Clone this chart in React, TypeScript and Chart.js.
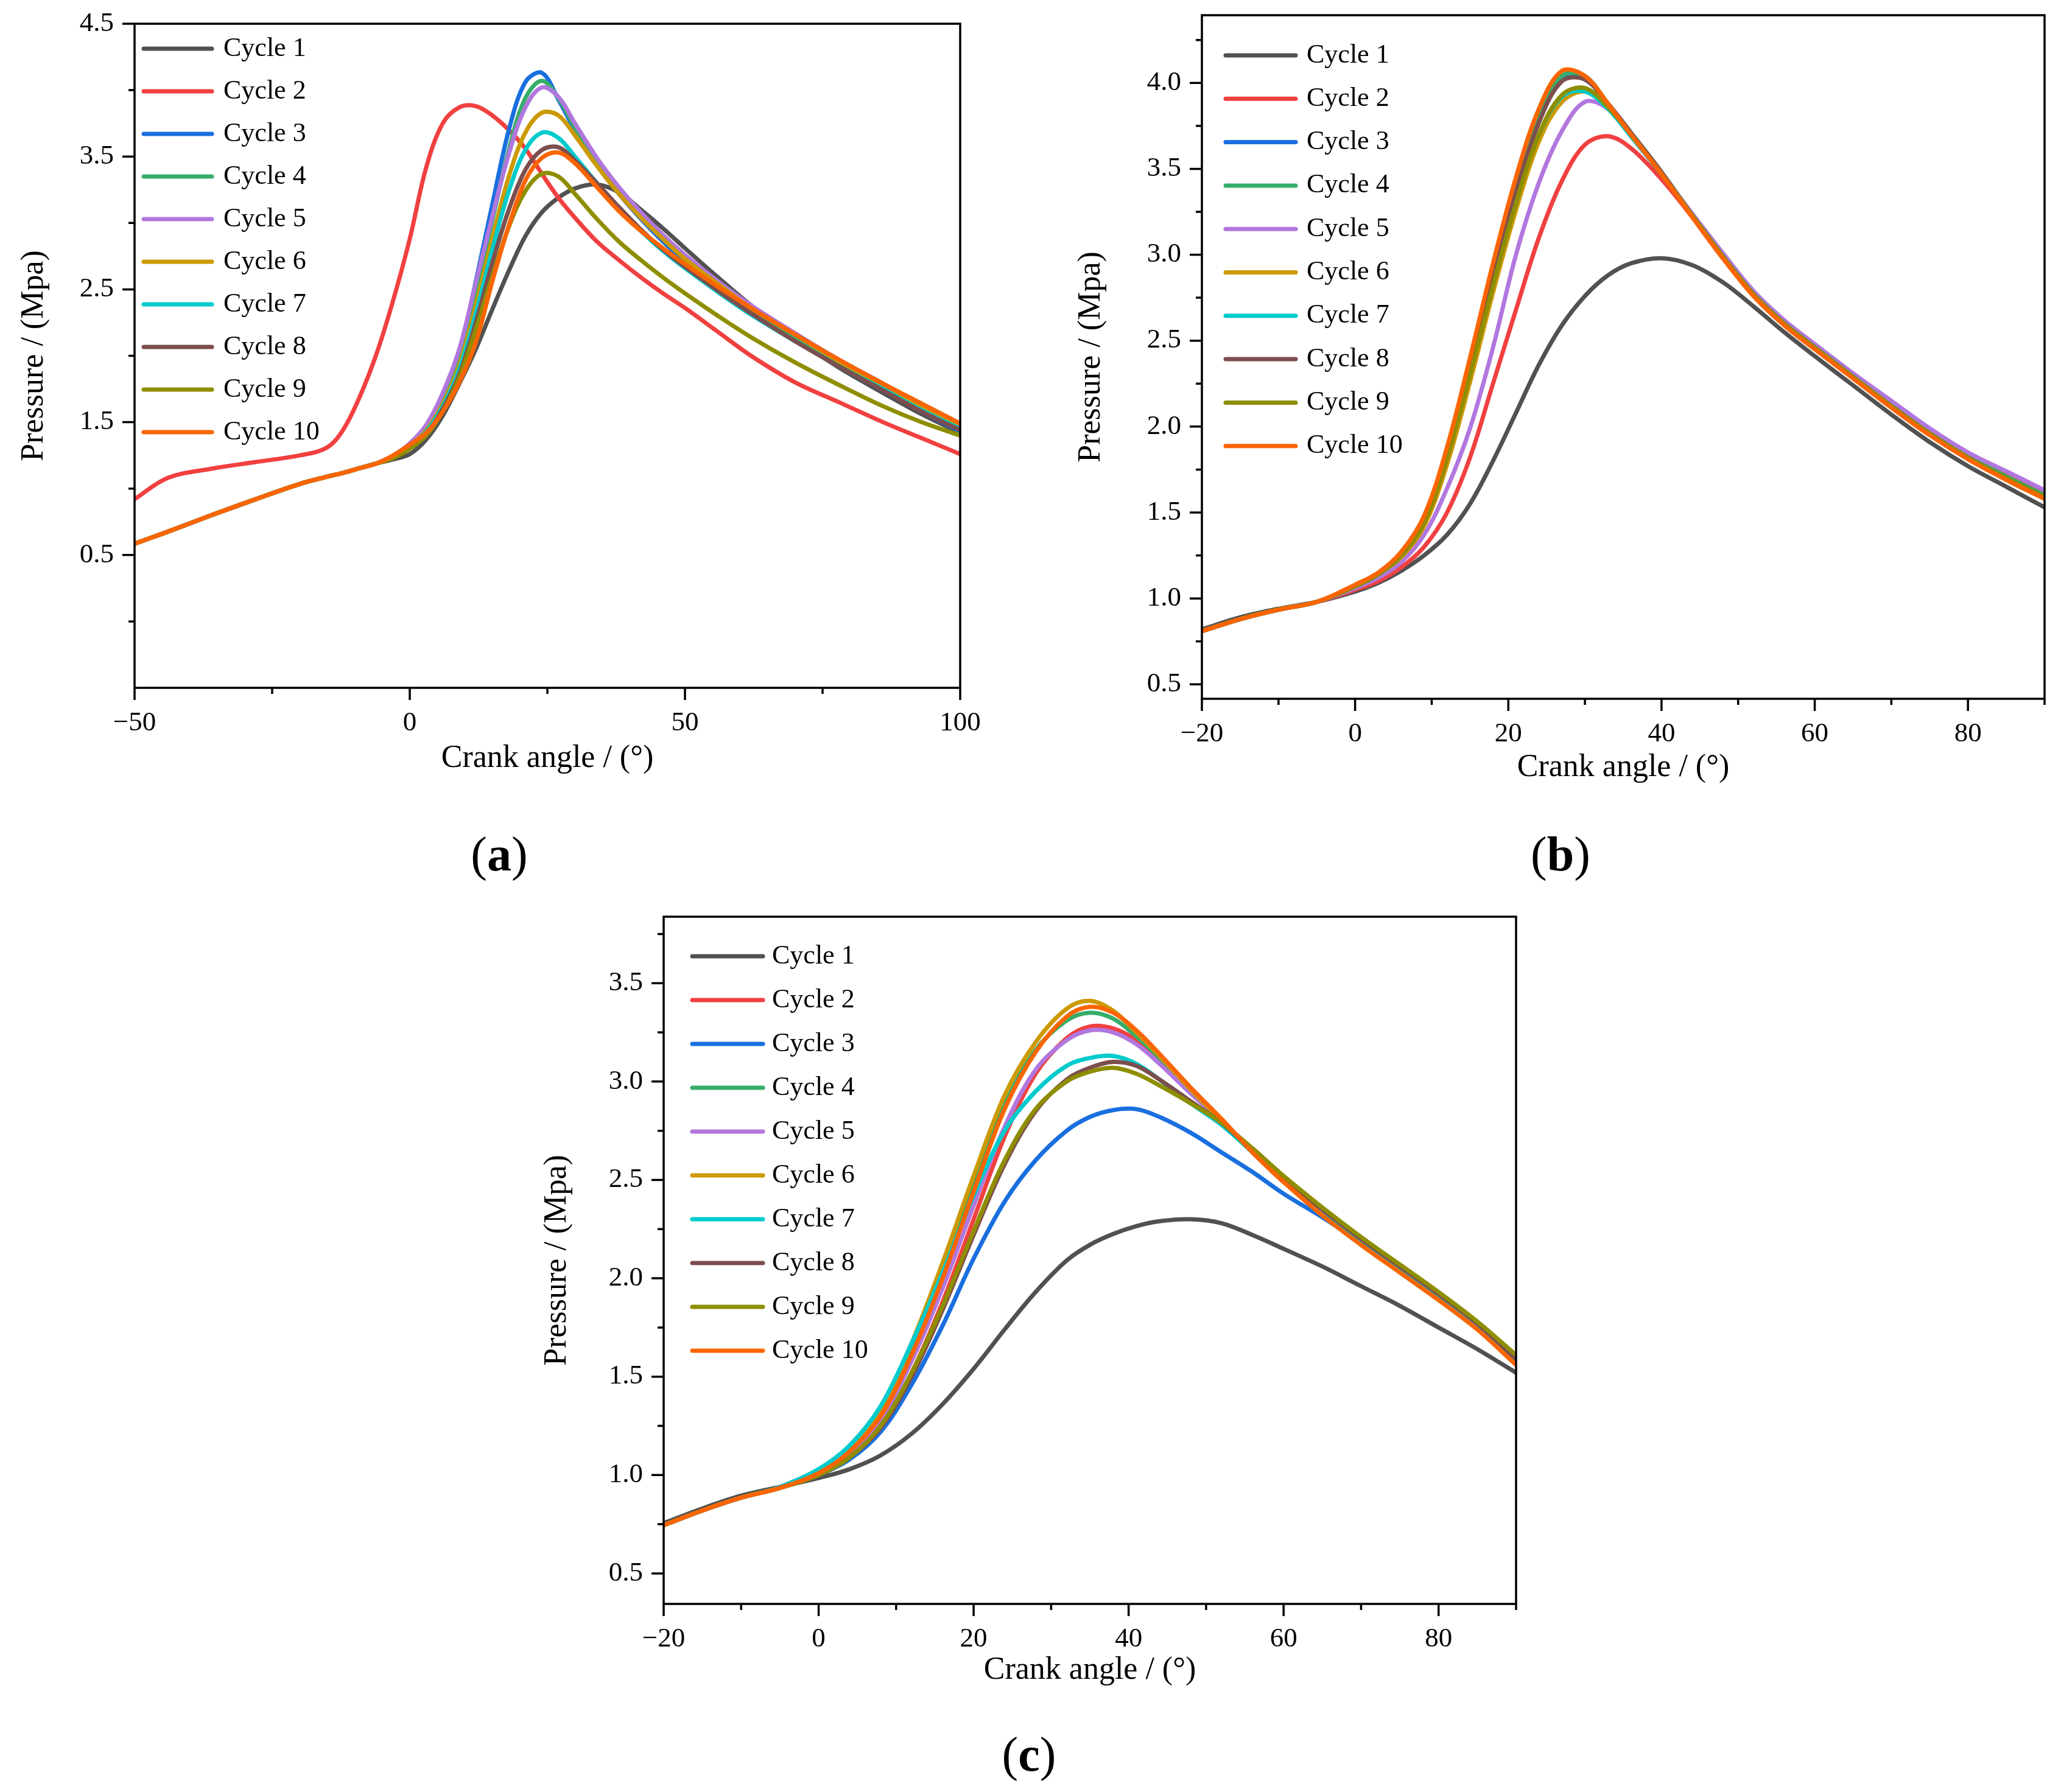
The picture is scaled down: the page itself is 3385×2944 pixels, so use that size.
import React, { useEffect, useRef } from 'react';
import { Chart, registerables } from 'chart.js';

Chart.register(...registerables);

const FONT = '"Liberation Serif", "Times New Roman", Times, serif';

const CYCLE_LABELS = ['Cycle 1', 'Cycle 2', 'Cycle 3', 'Cycle 4', 'Cycle 5', 'Cycle 6', 'Cycle 7', 'Cycle 8', 'Cycle 9', 'Cycle 10'];
const CYCLE_COLORS = ['#515151', '#F14040', '#1A6FDF', '#37AD6B', '#B177DE', '#CC9900', '#00CBCC', '#7D4E4E', '#8E8E00', '#FB6501'];

// ---- panel (a) ----
const A_ANGLES = [-50, -44, -36, -28, -20, -15, -12, -9, -6, -3, 0, 3, 6, 9, 12, 15, 18, 21, 24, 27, 30, 34, 38, 42, 46, 50, 56, 62, 70, 78, 86, 93, 100];
const A_CYCLE_1 = [0.585, 0.675, 0.8, 0.92, 1.035, 1.09, 1.12, 1.155, 1.19, 1.22, 1.26, 1.37, 1.55, 1.79, 2.05, 2.35, 2.64, 2.9, 3.08, 3.19, 3.26, 3.29, 3.23, 3.1, 2.96, 2.81, 2.59, 2.38, 2.13, 1.91, 1.72, 1.56, 1.42];
const A_CYCLE_2 = [0.92, 1.08, 1.15, 1.2, 1.25, 1.31, 1.45, 1.7, 2.02, 2.42, 2.88, 3.42, 3.75, 3.87, 3.88, 3.81, 3.7, 3.56, 3.37, 3.19, 3.04, 2.86, 2.72, 2.59, 2.47, 2.36, 2.18, 2.0, 1.8, 1.65, 1.5, 1.38, 1.26];
const A_CYCLE_3 = [0.585, 0.675, 0.8, 0.92, 1.035, 1.09, 1.12, 1.155, 1.19, 1.24, 1.33, 1.46, 1.68, 2.02, 2.56, 3.14, 3.7, 4.06, 4.13, 3.93, 3.7, 3.44, 3.22, 3.03, 2.86, 2.71, 2.51, 2.33, 2.12, 1.92, 1.74, 1.58, 1.43];
const A_CYCLE_4 = [0.585, 0.675, 0.8, 0.92, 1.035, 1.09, 1.12, 1.155, 1.19, 1.24, 1.32, 1.45, 1.66, 1.98, 2.48, 3.02, 3.55, 3.94, 4.07, 3.94, 3.72, 3.46, 3.24, 3.05, 2.88, 2.73, 2.53, 2.35, 2.14, 1.94, 1.76, 1.59, 1.44];
const A_CYCLE_5 = [0.585, 0.675, 0.8, 0.92, 1.035, 1.09, 1.12, 1.155, 1.19, 1.25, 1.34, 1.48, 1.72, 2.05, 2.55, 3.05, 3.52, 3.87, 4.02, 3.95, 3.75, 3.49, 3.27, 3.08, 2.91, 2.76, 2.56, 2.38, 2.17, 1.97, 1.79, 1.62, 1.47];
const A_CYCLE_6 = [0.585, 0.675, 0.8, 0.92, 1.035, 1.09, 1.12, 1.155, 1.19, 1.24, 1.32, 1.44, 1.64, 1.93, 2.38, 2.88, 3.35, 3.68, 3.83, 3.81, 3.66, 3.43, 3.22, 3.04, 2.88, 2.73, 2.54, 2.36, 2.16, 1.96, 1.78, 1.62, 1.48];
const A_CYCLE_7 = [0.585, 0.675, 0.8, 0.92, 1.035, 1.09, 1.12, 1.155, 1.19, 1.24, 1.32, 1.43, 1.62, 1.9, 2.32, 2.8, 3.24, 3.55, 3.68, 3.64, 3.5, 3.3, 3.11, 2.94, 2.79, 2.66, 2.48, 2.31, 2.11, 1.92, 1.75, 1.59, 1.45];
const A_CYCLE_8 = [0.585, 0.675, 0.8, 0.92, 1.035, 1.09, 1.12, 1.155, 1.19, 1.24, 1.31, 1.41, 1.6, 1.86, 2.25, 2.7, 3.1, 3.4, 3.55, 3.57, 3.47, 3.3, 3.12, 2.95, 2.8, 2.67, 2.49, 2.32, 2.11, 1.92, 1.74, 1.58, 1.44];
const A_CYCLE_9 = [0.585, 0.675, 0.8, 0.92, 1.035, 1.09, 1.12, 1.155, 1.19, 1.23, 1.3, 1.4, 1.58, 1.84, 2.2, 2.6, 2.97, 3.24, 3.37, 3.35, 3.22, 3.03, 2.86, 2.72, 2.59, 2.47, 2.3, 2.14, 1.95, 1.78, 1.62, 1.5, 1.4];
const A_CYCLE_10 = [0.585, 0.675, 0.8, 0.92, 1.035, 1.09, 1.12, 1.155, 1.19, 1.25, 1.33, 1.42, 1.58, 1.8, 2.1, 2.56, 2.98, 3.32, 3.49, 3.53, 3.45, 3.27, 3.09, 2.94, 2.81, 2.69, 2.52, 2.36, 2.16, 1.97, 1.79, 1.64, 1.49];
const A_X_TICKS = [-50, 0, 50, 100];
const A_X_MINOR = [-25, 25, 75];
const A_Y_TICKS = [0.5, 1.5, 2.5, 3.5, 4.5];
const A_Y_MINOR = [0, 1, 2, 3, 4];

// ---- panel (b) ----
const B_ANGLES = [-20, -15, -10, -5, 0, 3, 6, 9, 12, 15, 18, 21, 24, 27, 30, 33, 36, 40, 44, 48, 52, 56, 60, 65, 70, 75, 80, 85, 90];
const B_CYCLE_1 = [0.82, 0.89, 0.94, 0.98, 1.04, 1.09, 1.16, 1.25, 1.37, 1.55, 1.8, 2.08, 2.36, 2.59, 2.76, 2.88, 2.95, 2.98, 2.94, 2.84, 2.7, 2.55, 2.41, 2.24, 2.07, 1.91, 1.77, 1.65, 1.53];
const B_CYCLE_2 = [0.81, 0.88, 0.935, 0.98, 1.05, 1.1, 1.18, 1.3, 1.5, 1.82, 2.25, 2.68, 3.1, 3.43, 3.64, 3.69, 3.62, 3.44, 3.22, 2.98, 2.77, 2.6, 2.46, 2.29, 2.13, 1.97, 1.83, 1.72, 1.61];
const B_CYCLE_3 = [0.81, 0.88, 0.935, 0.98, 1.07, 1.14, 1.25, 1.45, 1.83, 2.33, 2.87, 3.37, 3.78, 4.02, 4.02, 3.88, 3.71, 3.48, 3.23, 2.99, 2.77, 2.6, 2.46, 2.29, 2.12, 1.96, 1.82, 1.7, 1.59];
const B_CYCLE_4 = [0.81, 0.88, 0.935, 0.98, 1.07, 1.14, 1.25, 1.46, 1.85, 2.36, 2.9, 3.4, 3.8, 4.04, 4.04, 3.88, 3.71, 3.48, 3.23, 2.99, 2.78, 2.61, 2.47, 2.3, 2.13, 1.97, 1.83, 1.71, 1.6];
const B_CYCLE_5 = [0.81, 0.88, 0.935, 0.98, 1.06, 1.12, 1.21, 1.37, 1.64, 1.99, 2.46, 3.0, 3.42, 3.72, 3.89, 3.85, 3.69, 3.47, 3.24, 3.01, 2.79, 2.62, 2.48, 2.31, 2.15, 1.99, 1.85, 1.74, 1.63];
const B_CYCLE_6 = [0.81, 0.88, 0.935, 0.98, 1.07, 1.14, 1.24, 1.42, 1.78, 2.26, 2.78, 3.26, 3.66, 3.89, 3.95, 3.86, 3.7, 3.47, 3.23, 2.99, 2.77, 2.6, 2.46, 2.29, 2.12, 1.96, 1.82, 1.69, 1.58];
const B_CYCLE_7 = [0.81, 0.88, 0.935, 0.98, 1.07, 1.14, 1.25, 1.45, 1.83, 2.32, 2.84, 3.32, 3.7, 3.92, 3.95, 3.85, 3.69, 3.47, 3.23, 2.99, 2.77, 2.6, 2.46, 2.29, 2.12, 1.96, 1.82, 1.7, 1.59];
const B_CYCLE_8 = [0.81, 0.88, 0.935, 0.98, 1.07, 1.14, 1.25, 1.44, 1.82, 2.32, 2.86, 3.36, 3.77, 4.01, 4.02, 3.88, 3.71, 3.48, 3.23, 2.99, 2.77, 2.6, 2.46, 2.29, 2.12, 1.96, 1.82, 1.7, 1.59];
const B_CYCLE_9 = [0.81, 0.88, 0.935, 0.98, 1.07, 1.14, 1.25, 1.44, 1.82, 2.3, 2.82, 3.3, 3.7, 3.93, 3.97, 3.86, 3.7, 3.47, 3.23, 2.99, 2.77, 2.6, 2.46, 2.29, 2.12, 1.96, 1.82, 1.7, 1.59];
const B_CYCLE_10 = [0.81, 0.88, 0.935, 0.98, 1.08, 1.15, 1.27, 1.48, 1.88, 2.4, 2.95, 3.45, 3.85, 4.07, 4.04, 3.88, 3.7, 3.47, 3.22, 2.98, 2.76, 2.59, 2.45, 2.28, 2.11, 1.95, 1.81, 1.69, 1.58];
const B_X_TICKS = [-20, 0, 20, 40, 60, 80];
const B_X_MINOR = [-10, 10, 30, 50, 70, 90];
const B_Y_TICKS = [0.5, 1.0, 1.5, 2.0, 2.5, 3.0, 3.5, 4.0];
const B_Y_MINOR = [0.75, 1.25, 1.75, 2.25, 2.75, 3.25, 3.75, 4.25];

// ---- panel (c) ----
const C_ANGLES = [-20, -15, -10, -5, 0, 4, 8, 12, 16, 20, 24, 28, 32, 35, 38, 41, 44, 48, 52, 56, 60, 65, 70, 75, 80, 85, 90];
const C_CYCLE_1 = [0.755, 0.83, 0.895, 0.94, 0.985, 1.03, 1.1, 1.21, 1.36, 1.54, 1.74, 1.93, 2.09, 2.17, 2.225, 2.265, 2.29, 2.3, 2.28, 2.22, 2.15, 2.06, 1.96, 1.86, 1.75, 1.64, 1.52];
const C_CYCLE_2 = [0.745, 0.82, 0.885, 0.935, 1.0, 1.09, 1.25, 1.52, 1.88, 2.3, 2.72, 3.04, 3.22, 3.28, 3.27, 3.21, 3.1, 2.95, 2.8, 2.64, 2.49, 2.33, 2.18, 2.04, 1.9, 1.75, 1.57];
const C_CYCLE_3 = [0.745, 0.82, 0.885, 0.935, 1.0, 1.08, 1.22, 1.46, 1.76, 2.1, 2.39, 2.6, 2.75, 2.82, 2.855, 2.86, 2.82, 2.74, 2.64, 2.54, 2.43, 2.31, 2.18, 2.04, 1.9, 1.75, 1.57];
const C_CYCLE_4 = [0.745, 0.82, 0.885, 0.935, 1.01, 1.12, 1.31, 1.63, 2.03, 2.47, 2.88, 3.16, 3.31, 3.35, 3.32, 3.23, 3.12, 2.96, 2.8, 2.64, 2.49, 2.33, 2.18, 2.04, 1.9, 1.75, 1.58];
const C_CYCLE_5 = [0.745, 0.82, 0.885, 0.935, 1.01, 1.11, 1.28, 1.58, 1.95, 2.37, 2.77, 3.06, 3.21, 3.26, 3.25, 3.19, 3.09, 2.94, 2.8, 2.64, 2.49, 2.33, 2.18, 2.04, 1.9, 1.75, 1.57];
const C_CYCLE_6 = [0.745, 0.82, 0.885, 0.935, 1.01, 1.13, 1.33, 1.67, 2.08, 2.52, 2.93, 3.2, 3.37, 3.41, 3.36, 3.25, 3.13, 2.96, 2.8, 2.64, 2.49, 2.32, 2.17, 2.03, 1.89, 1.74, 1.57];
const C_CYCLE_7 = [0.745, 0.82, 0.885, 0.94, 1.03, 1.15, 1.35, 1.67, 2.03, 2.42, 2.75, 2.95, 3.08, 3.12, 3.13, 3.09, 3.01, 2.89, 2.78, 2.64, 2.5, 2.34, 2.19, 2.05, 1.91, 1.76, 1.58];
const C_CYCLE_8 = [0.745, 0.82, 0.885, 0.935, 1.0, 1.09, 1.24, 1.5, 1.84, 2.22, 2.58, 2.85, 3.01, 3.07, 3.1, 3.08, 3.01, 2.9, 2.79, 2.65, 2.51, 2.35, 2.2, 2.06, 1.92, 1.77, 1.59];
const C_CYCLE_9 = [0.745, 0.82, 0.885, 0.935, 1.0, 1.09, 1.25, 1.52, 1.86, 2.24, 2.6, 2.86, 3.0, 3.05, 3.07, 3.04, 2.98, 2.89, 2.79, 2.66, 2.52, 2.36, 2.21, 2.07, 1.93, 1.78, 1.61];
const C_CYCLE_10 = [0.745, 0.82, 0.885, 0.935, 1.01, 1.12, 1.3, 1.61, 2.0, 2.44, 2.86, 3.15, 3.33, 3.38, 3.35, 3.26, 3.14, 2.97, 2.81, 2.64, 2.49, 2.32, 2.17, 2.03, 1.89, 1.74, 1.56];
const C_X_TICKS = [-20, 0, 20, 40, 60, 80];
const C_X_MINOR = [-10, 10, 30, 50, 70, 90];
const C_Y_TICKS = [0.5, 1.0, 1.5, 2.0, 2.5, 3.0, 3.5];
const C_Y_MINOR = [0.75, 1.25, 1.75, 2.25, 2.75, 3.25, 3.75];

const LINE_W = 7;

const fmtTick = (v: number, digits: number) => (v < 0 ? '\u2212' : '') + Math.abs(v).toFixed(digits);

// frame box + outward ticks (long major, short minor)
const frameTicks = {
  id: 'frameTicks',
  afterDraw(chart: any, _args: any, opts: any) {
    const { ctx, chartArea: a, scales } = chart;
    const x = scales.x;
    const y = scales.y;
    ctx.save();
    ctx.strokeStyle = '#000';
    ctx.lineWidth = 3.5;
    ctx.lineCap = 'butt';
    ctx.strokeRect(a.left, a.top, a.right - a.left, a.bottom - a.top);
    ctx.beginPath();
    opts.xMajor.forEach((v: number) => { const p = x.getPixelForValue(v); ctx.moveTo(p, a.bottom); ctx.lineTo(p, a.bottom + 20); });
    opts.xMinor.forEach((v: number) => { const p = x.getPixelForValue(v); ctx.moveTo(p, a.bottom); ctx.lineTo(p, a.bottom + 10); });
    opts.yMajor.forEach((v: number) => { const p = y.getPixelForValue(v); ctx.moveTo(a.left, p); ctx.lineTo(a.left - 20, p); });
    opts.yMinor.forEach((v: number) => { const p = y.getPixelForValue(v); ctx.moveTo(a.left, p); ctx.lineTo(a.left - 10, p); });
    ctx.stroke();
    ctx.restore();
  },
};

// legend drawn inside the plot area, top-left
const cycleLegend = {
  id: 'cycleLegend',
  afterDraw(chart: any, _args: any, opts: any) {
    const { ctx, chartArea: a } = chart;
    ctx.save();
    ctx.font = `${opts.size}px ${FONT}`;
    ctx.textBaseline = 'middle';
    ctx.textAlign = 'left';
    chart.data.datasets.forEach((ds: any, i: number) => {
      const yy = a.top + opts.top + i * opts.gap;
      const x0 = a.left + opts.left;
      ctx.strokeStyle = ds.borderColor;
      ctx.lineWidth = LINE_W;
      ctx.lineCap = 'round';
      ctx.beginPath();
      ctx.moveTo(x0, yy);
      ctx.lineTo(x0 + opts.len, yy);
      ctx.stroke();
      ctx.fillStyle = '#000';
      ctx.fillText(ds.label, a.left + opts.text, yy);
    });
    ctx.restore();
  },
};

type PanelProps = {
  angles: number[];
  series: number[][];
  xRange: [number, number];
  yRange: [number, number];
  xTicks: number[];
  xMinor: number[];
  yTicks: number[];
  yMinor: number[];
  yDigits: number;
  box: { left: number; top: number; width: number; height: number };
  area: { L: number; T: number; R: number; B: number };
  yTitleX: number;
  xTitleY: number;
  legend: { left: number; top: number; gap: number; len: number; text: number };
};

function Panel(p: PanelProps) {
  const ref = useRef<HTMLCanvasElement>(null);

  useEffect(() => {
    if (!ref.current) return;
    const titleSize = 52;
    const half = (titleSize * 1.2) / 2;
    const { box, area } = p;
    const yScaleLeft = p.yTitleX - half - box.left;
    const yWidth = area.L - box.left - yScaleLeft;
    const xScaleBottom = p.xTitleY + half - box.top;
    const xHeight = xScaleBottom - (area.B - box.top);

    const chart = new Chart(ref.current, {
      type: 'line',
      data: {
        datasets: p.series.map((vals, i) => ({
          label: CYCLE_LABELS[i],
          data: p.angles.map((a, j) => ({ x: a, y: vals[j] })),
          borderColor: CYCLE_COLORS[i],
          backgroundColor: CYCLE_COLORS[i],
          borderWidth: LINE_W,
          pointRadius: 0,
          tension: 0.35,
          borderCapStyle: 'round',
          borderJoinStyle: 'round',
          order: 9 - i,
        })),
      },
      options: {
        animation: false,
        responsive: false,
        devicePixelRatio: 1,
        events: [],
        layout: {
          autoPadding: false,
          padding: {
            left: yScaleLeft,
            top: area.T - box.top,
            right: box.left + box.width - area.R,
            bottom: box.height - xScaleBottom,
          },
        },
        scales: {
          x: {
            type: 'linear',
            min: p.xRange[0],
            max: p.xRange[1],
            border: { display: false },
            grid: { display: false, drawTicks: false },
            afterBuildTicks: (s: any) => { s.ticks = p.xTicks.map((value) => ({ value })); },
            afterFit: (s: any) => { s.height = xHeight; s.paddingLeft = 0; s.paddingRight = 0; },
            ticks: {
              autoSkip: false,
              maxRotation: 0,
              padding: 31,
              color: '#000',
              font: { family: FONT, size: 45 },
              callback: (v: any) => fmtTick(Number(v), 0),
            },
            title: { display: true, text: 'Crank angle / (°)', color: '#000', padding: 0, font: { family: FONT, size: titleSize } },
          },
          y: {
            type: 'linear',
            min: p.yRange[0],
            max: p.yRange[1],
            border: { display: false },
            grid: { display: false, drawTicks: false },
            afterBuildTicks: (s: any) => { s.ticks = p.yTicks.map((value) => ({ value })); },
            afterFit: (s: any) => { s.width = yWidth; s.paddingTop = 0; s.paddingBottom = 0; },
            ticks: {
              autoSkip: false,
              padding: 34,
              color: '#000',
              font: { family: FONT, size: 45 },
              callback: (v: any) => fmtTick(Number(v), p.yDigits),
            },
            title: { display: true, text: 'Pressure / (Mpa)', color: '#000', padding: 0, font: { family: FONT, size: titleSize } },
          },
        },
        plugins: {
          legend: { display: false },
          tooltip: { enabled: false },
          frameTicks: { xMajor: p.xTicks, xMinor: p.xMinor, yMajor: p.yTicks, yMinor: p.yMinor },
          cycleLegend: { size: 44, ...p.legend },
        } as any,
      },
      plugins: [frameTicks, cycleLegend],
    } as any);

    return () => chart.destroy();
  }, []);

  return (
    <canvas
      ref={ref}
      width={p.box.width}
      height={p.box.height}
      style={{ position: 'absolute', left: p.box.left, top: p.box.top, width: p.box.width, height: p.box.height }}
    />
  );
}

function PanelLabel({ letter, x, y }: { letter: string; x: number; y: number }) {
  return (
    <div
      style={{
        position: 'absolute',
        left: x,
        top: y,
        transform: 'translate(-50%, -50%)',
        fontFamily: FONT,
        fontSize: 80,
        lineHeight: 1,
        color: '#000',
        whiteSpace: 'nowrap',
      }}
    >
      (<b>{letter}</b>)
    </div>
  );
}

export default function App() {
  return (
    <div style={{ position: 'absolute', left: 0, top: 0, width: 3385, height: 2944, background: '#fff', overflow: 'hidden' }}>
      <Panel
        angles={A_ANGLES}
        series={[A_CYCLE_1, A_CYCLE_2, A_CYCLE_3, A_CYCLE_4, A_CYCLE_5, A_CYCLE_6, A_CYCLE_7, A_CYCLE_8, A_CYCLE_9, A_CYCLE_10]}
        xRange={[-50, 100]}
        yRange={[-0.5, 4.5]}
        xTicks={A_X_TICKS}
        xMinor={A_X_MINOR}
        yTicks={A_Y_TICKS}
        yMinor={A_Y_MINOR}
        yDigits={1}
        box={{ left: 0, top: 0, width: 1700, height: 1330 }}
        area={{ L: 221, T: 39, R: 1577, B: 1130 }}
        yTitleX={56}
        xTitleY={1246}
        legend={{ left: 15, top: 41, gap: 70, len: 112, text: 146 }}
      />
      <Panel
        angles={B_ANGLES}
        series={[B_CYCLE_1, B_CYCLE_2, B_CYCLE_3, B_CYCLE_4, B_CYCLE_5, B_CYCLE_6, B_CYCLE_7, B_CYCLE_8, B_CYCLE_9, B_CYCLE_10]}
        xRange={[-20, 90]}
        yRange={[0.416, 4.394]}
        xTicks={B_X_TICKS}
        xMinor={B_X_MINOR}
        yTicks={B_Y_TICKS}
        yMinor={B_Y_MINOR}
        yDigits={1}
        box={{ left: 1720, top: 0, width: 1665, height: 1330 }}
        area={{ L: 1974, T: 25, R: 3358, B: 1148 }}
        yTitleX={1792}
        xTitleY={1261}
        legend={{ left: 39, top: 66, gap: 71.3, len: 115, text: 172 }}
      />
      <Panel
        angles={C_ANGLES}
        series={[C_CYCLE_1, C_CYCLE_2, C_CYCLE_3, C_CYCLE_4, C_CYCLE_5, C_CYCLE_6, C_CYCLE_7, C_CYCLE_8, C_CYCLE_9, C_CYCLE_10]}
        xRange={[-20, 90]}
        yRange={[0.345, 3.838]}
        xTicks={C_X_TICKS}
        xMinor={C_X_MINOR}
        yTicks={C_Y_TICKS}
        yMinor={C_Y_MINOR}
        yDigits={1}
        box={{ left: 850, top: 1440, width: 1750, height: 1400 }}
        area={{ L: 1090, T: 1506, R: 2490, B: 2635 }}
        yTitleX={915}
        xTitleY={2744}
        legend={{ left: 47, top: 65, gap: 72, len: 116, text: 178 }}
      />
      <PanelLabel letter="a" x={820} y={1403} />
      <PanelLabel letter="b" x={2563} y={1403} />
      <PanelLabel letter="c" x={1690} y={2882} />
    </div>
  );
}
